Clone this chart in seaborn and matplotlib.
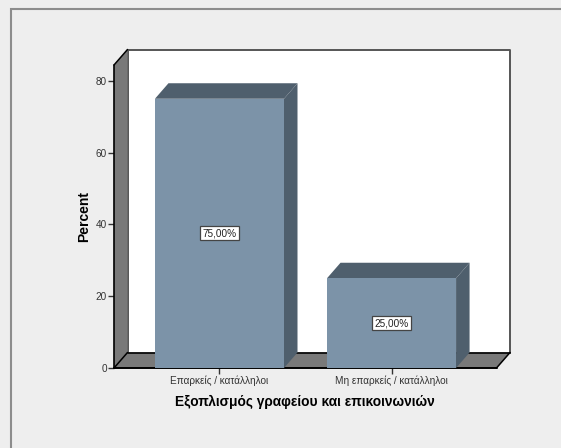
"""SPSS style 3D bar chart, the depth is drawn by hand on top of a seaborn barplot"""

import matplotlib
matplotlib.use('Agg')
import matplotlib.pyplot as plt
import matplotlib.transforms as mtrans
from matplotlib.patches import Polygon, Rectangle
import pandas as pd
import seaborn as sns

categories = ['Επαρκείς / κατάλληλοι', 'Μη επαρκείς / κατάλληλοι']
percents = [75.0, 25.0]
value_labels = ['75,00%', '25,00%']
y_ticks = [0, 20, 40, 60, 80]

W, H = 561, 448
BG = '#eeeeee'
FRONT = '#7c93a8'
DARK = '#4f5f6d'
WALL = '#797979'
DX, DY = 13.5, 15.5   # depth of the box, pixels

sns.set_theme(style='white')
plt.rcParams['font.family'] = ['Liberation Sans', 'DejaVu Sans']

fig = plt.figure(figsize=(W / 100, H / 100), dpi=100, facecolor=BG)
# plot box in pixels from the top left corner
left, right, top, bottom = 114, 496.5, 65, 368
ax = fig.add_axes([left / W, 1 - bottom / H, (right - left) / W, (bottom - top) / H])
ax.patch.set_alpha(0)

df = pd.DataFrame({'cat': categories, 'pct': percents})
sns.barplot(data=df, x='cat', y='pct', color=FRONT, saturation=1, width=0.75, linewidth=0, ax=ax, zorder=5)
ax.set_xlim(-0.613, 1.61)
ax.set_ylim(0, (bottom - top) / 3.59)

# outer panel frame
fig.add_artist(Rectangle((11 / W, -0.1), 1.2, 1 - 9 / H + 0.1, transform=fig.transFigure,
                         fc='none', ec='#8c8c8c', lw=1.5))

shift = mtrans.ScaledTranslation(DX / 100, DY / 100, fig.dpi_scale_trans)
back = ax.transAxes + shift

# back wall
ax.add_patch(Rectangle((0, 0), 1, 1, transform=back, fc='white', ec='none', zorder=1, clip_on=False))
ax.plot([0, 0, 1, 1], [0, 1, 1, 0], transform=back, color='#555555', lw=1.4, zorder=2, clip_on=False)
ax.plot([0, 1], [0, 0], transform=back, color='black', lw=1.2, zorder=3, clip_on=False)


def side_face(p0, p1, fc, zorder):
    # quad between edge p0-p1 (axes fraction) and the same edge pushed back
    a = ax.transAxes.transform([p0, p1])
    b = a + [DX, DY]
    pts = [a[0], a[1], b[1], b[0]]
    ax.add_patch(Polygon(pts, closed=True, transform=None, fc=fc, ec='none', zorder=zorder, clip_on=False))


side_face((0, 0), (0, 1), WALL, 2)   # left wall
side_face((0, 0), (1, 0), WALL, 2)   # floor

# outline of walls and floor
a = ax.transAxes
ax.plot([0, 0], [0, 1], transform=a, color='black', lw=1.2, zorder=4, clip_on=False)
ax.plot([0, 1], [0, 0], transform=a, color='black', lw=1.4, zorder=4, clip_on=False)
for pt in [(0, 0), (0, 1), (1, 0)]:
    p = a.transform(pt)
    ax.plot([p[0], p[0] + DX], [p[1], p[1] + DY], transform=None, color='black', lw=1.1,
            zorder=4, clip_on=False)

# depth of the bars, taken from the bars seaborn drew
for bar, lab in zip(ax.patches[:len(percents)], value_labels):
    x0, x1 = bar.get_x(), bar.get_x() + bar.get_width()
    h = bar.get_height()
    p = ax.transData.transform([(x0, 0), (x1, 0), (x1, h), (x0, h)])
    off = [DX, DY]
    ax.add_patch(Polygon([p[3], p[2], p[2] + off, p[3] + off], transform=None, fc=DARK, ec='none',
                         zorder=4.5, clip_on=False))
    ax.add_patch(Polygon([p[1], p[2], p[2] + off, p[1] + off], transform=None, fc=DARK, ec='none',
                         zorder=4.5, clip_on=False))
    ax.text((x0 + x1) / 2, h / 2, lab, ha='center', va='center', fontsize=7.2, color='#222222', zorder=6,
            bbox=dict(boxstyle='square,pad=0.2', fc='white', ec='#444444', lw=0.9))

ax.set_yticks(y_ticks)
ax.set_xticks([0, 1])
ax.set_xticklabels(categories)
ax.tick_params(axis='y', left=True, length=4.2, width=1, color='#333333', labelsize=7.2, pad=1, labelcolor='#333333')
ax.tick_params(axis='x', bottom=True, length=4, width=1, color='#333333', labelsize=7.2, pad=1.5, labelcolor='#333333')
ax.set_xlabel('Εξοπλισμός γραφείου και επικοινωνιών', fontsize=9.9, fontweight='bold', color='black', labelpad=6)
ax.set_ylabel('Percent', fontsize=10, fontweight='bold', color='black', labelpad=3)
sns.despine(ax=ax, left=True, bottom=True, top=True, right=True)

fig.savefig('out.png', dpi=100, facecolor=BG)
print('saved out.png')
